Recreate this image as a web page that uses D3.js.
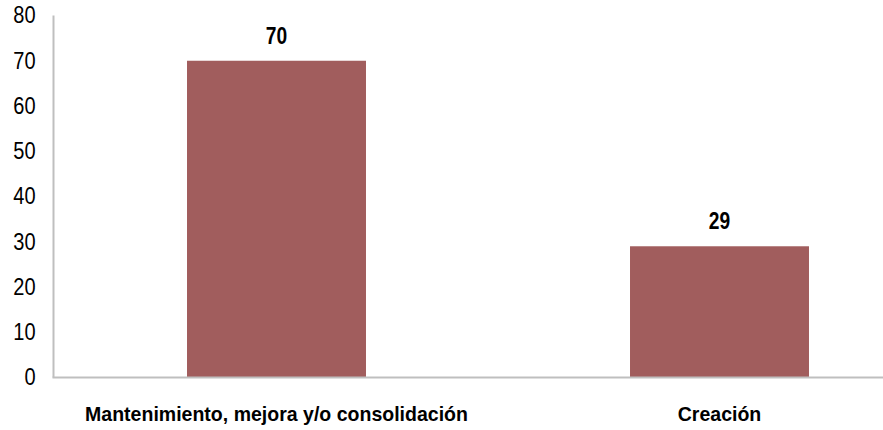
<!DOCTYPE html>
<html><head><meta charset="utf-8">
<script src="https://cdn.jsdelivr.net/npm/d3@7"></script>
<style>body{margin:0;background:#fff}svg{display:block}</style>
</head><body>
<script>
const categories = ["Mantenimiento, mejora y/o consolidación", "Creación"];
const values = [70, 29];
const yTicks = [0, 10, 20, 30, 40, 50, 60, 70, 80];

const W = 883, H = 430;
const svg = d3.select("body").append("svg").attr("width", W).attr("height", H);
const x = d3.scaleBand().domain(categories).range([55, 941]).paddingInner(0.596).paddingOuter(0.298);
const y = d3.scaleLinear().domain([0, 80]).range([377.5, 15.5]);
const font = "'Liberation Sans Narrow', 'Arial Narrow', 'Liberation Sans', Arial, sans-serif";

// y tick labels (condensed look)
const tickSx = 0.87;
const yAxis = d3.axisLeft(y).tickValues(yTicks).tickSize(0).tickPadding(18);
const gy = svg.append("g").attr("transform", "translate(53.5,0)").call(yAxis);
gy.select(".domain").remove();
gy.selectAll("text").attr("font-family", font).attr("font-size", 23).attr("fill", "#000")
  .attr("x", -18 / tickSx).attr("transform", `scale(${tickSx},1)`);

// bars
svg.selectAll("rect.bar").data(values).enter().append("rect")
  .attr("class", "bar")
  .attr("x", (d, i) => x(categories[i]))
  .attr("y", d => y(d))
  .attr("width", x.bandwidth())
  .attr("height", d => y(0) - y(d))
  .attr("fill", "#A15D5D");

// axis lines
svg.append("line").attr("x1", 53.5).attr("x2", 53.5).attr("y1", y(80)).attr("y2", y(0))
  .attr("stroke", "#BFBFBF").attr("stroke-width", 2);
svg.append("line").attr("x1", 52.5).attr("x2", W).attr("y1", y(0)).attr("y2", y(0))
  .attr("stroke", "#BFBFBF").attr("stroke-width", 2);

// value labels
const valSx = 0.8;
svg.selectAll("text.val").data(values).enter().append("text")
  .attr("class", "val")
  .attr("transform", (d, i) => `translate(${x(categories[i]) + x.bandwidth() / 2},${y(d) - 17}) scale(${valSx},1)`)
  .attr("text-anchor", "middle")
  .attr("font-family", font).attr("font-size", 24).attr("font-weight", "bold")
  .text(d => d);

// category labels
const catSx = 0.93;
const xAxis = d3.axisBottom(x).tickSize(0).tickPadding(29);
const gx = svg.append("g").attr("transform", `translate(0,${y(0)})`).call(xAxis);
gx.select(".domain").remove();
gx.selectAll("text").attr("font-family", font).attr("font-size", 21).attr("font-weight", "bold").attr("fill", "#000")
  .attr("transform", `scale(${catSx},1)`);
</script>
</body></html>
